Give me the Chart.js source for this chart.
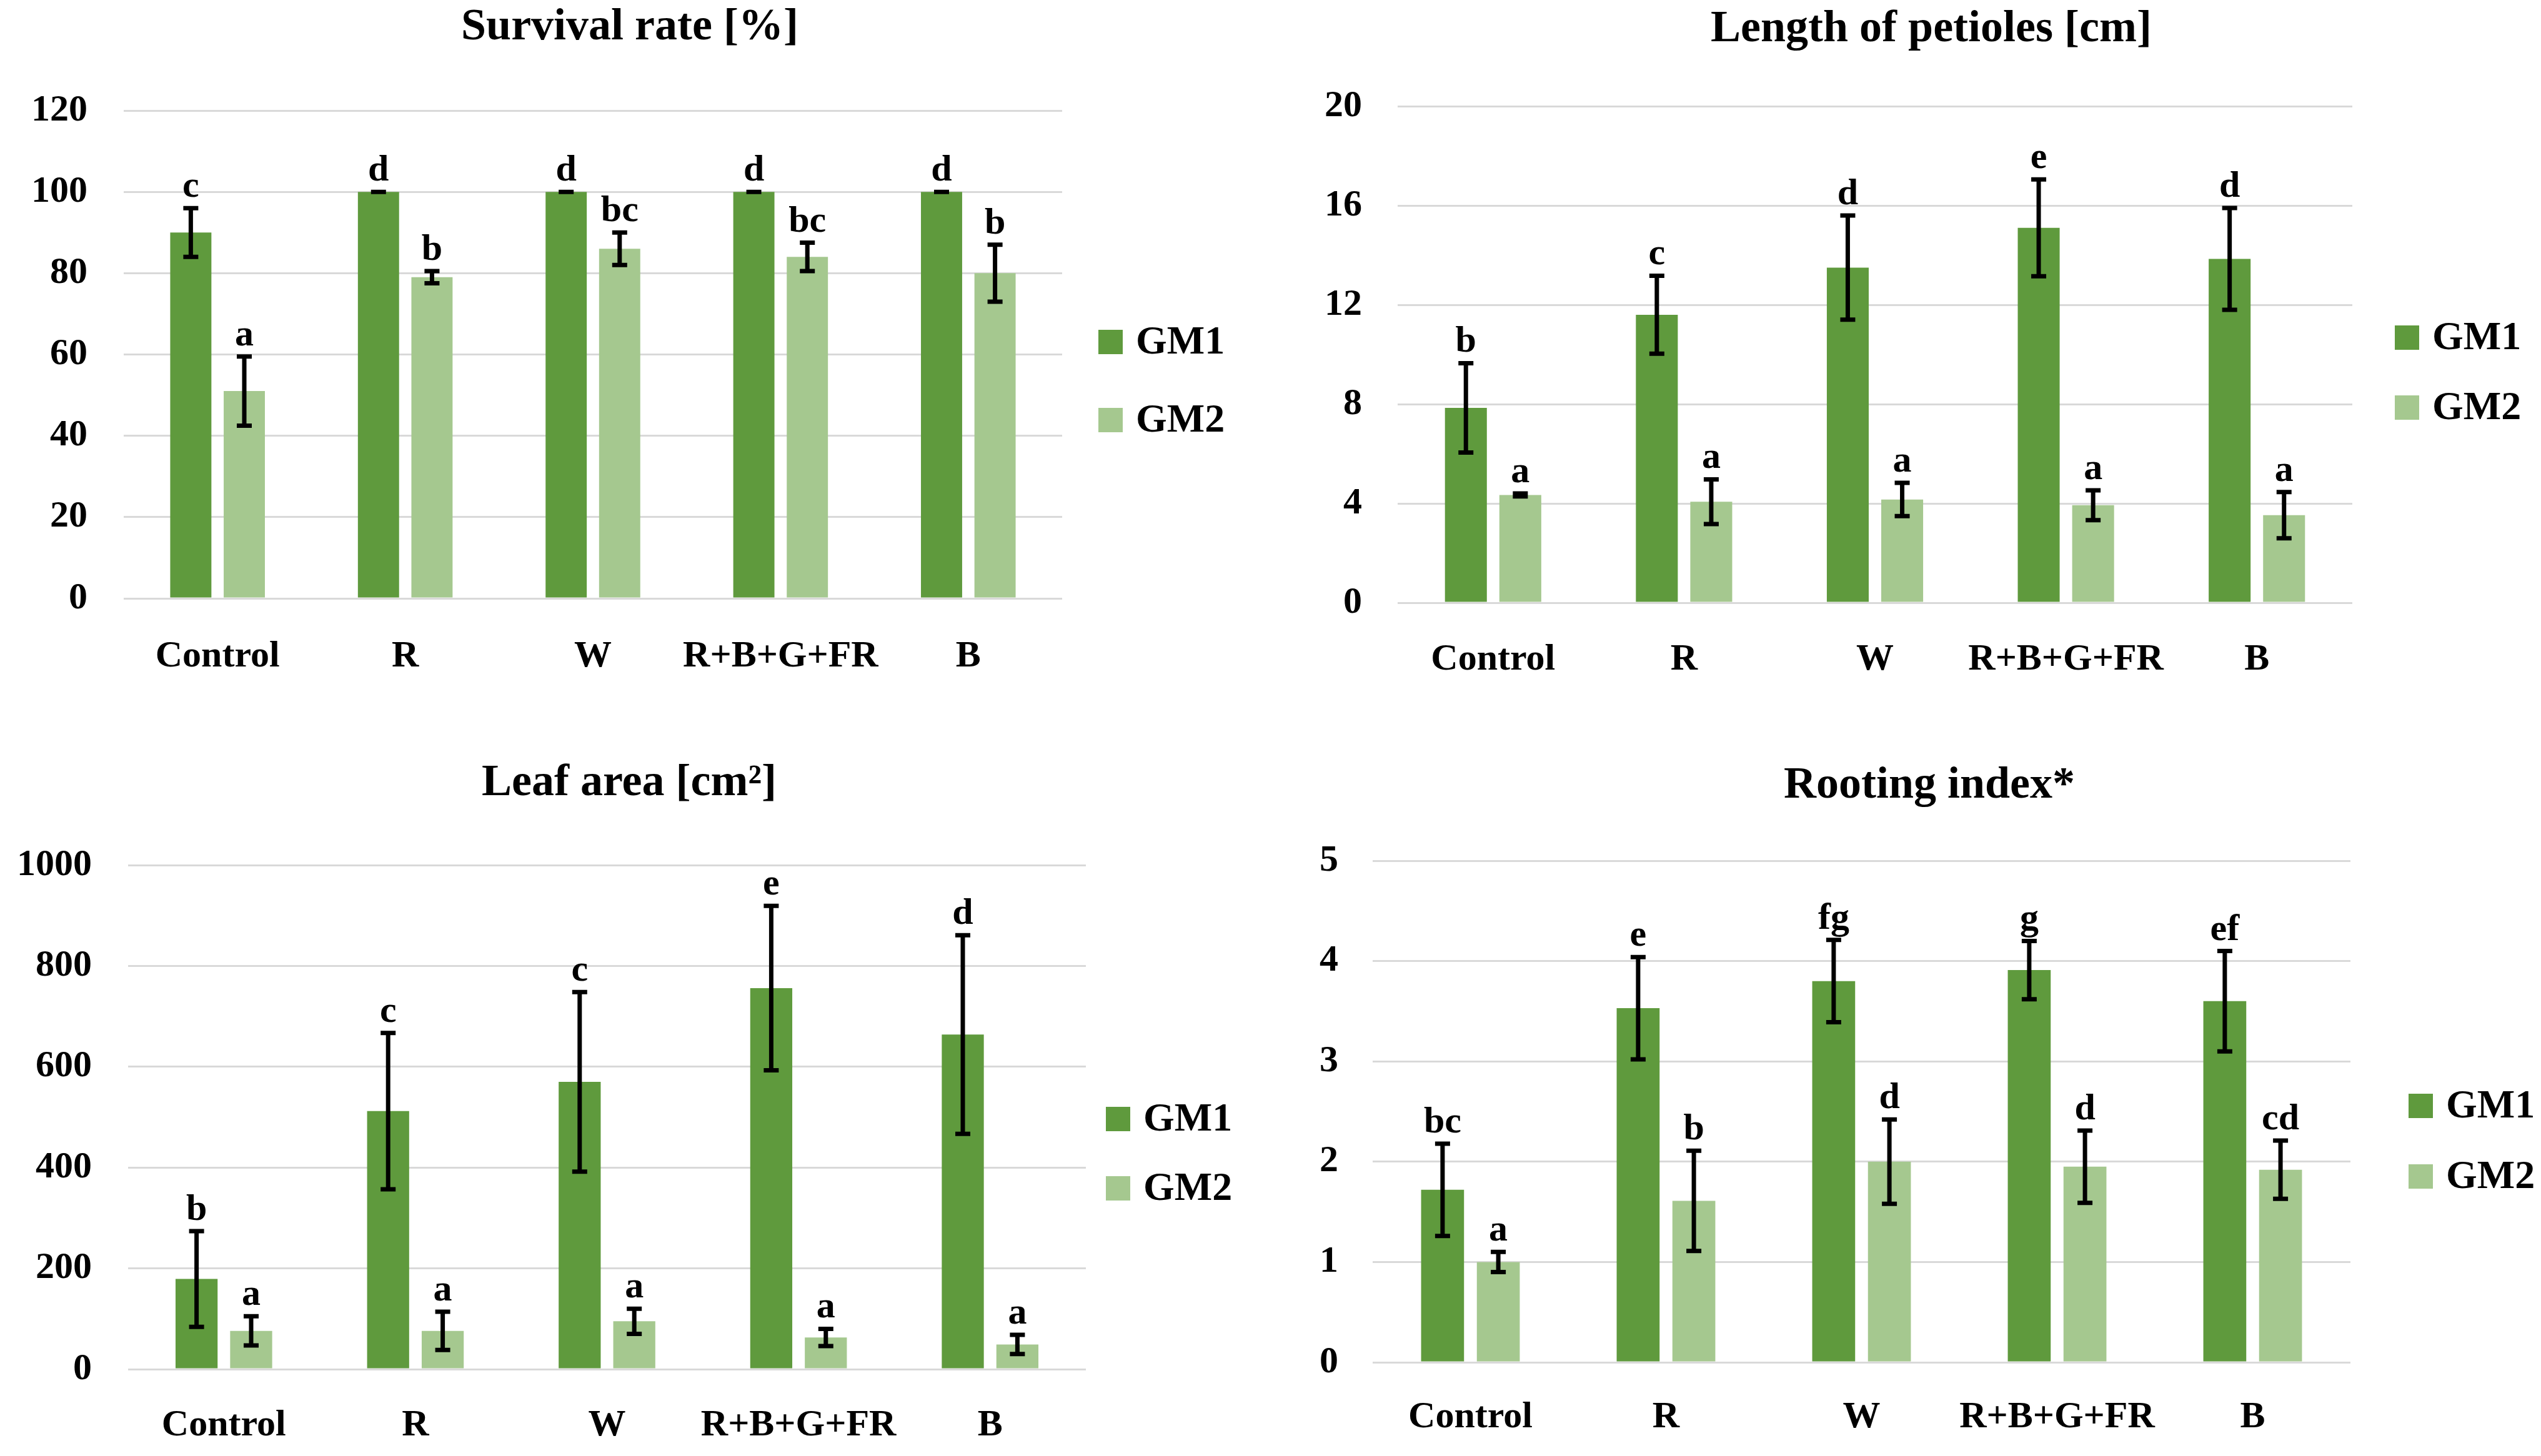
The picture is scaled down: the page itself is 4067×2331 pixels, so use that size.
<!DOCTYPE html>
<html>
<head>
<meta charset="utf-8">
<script src="https://cdn.jsdelivr.net/npm/chart.js@4.4.1/dist/chart.umd.min.js"></script>
<style>
  html, body { margin: 0; padding: 0; background: #fff; }
  body { width: 4067px; height: 2331px; position: relative; overflow: hidden; }
  canvas { position: absolute; }
</style>
</head>
<body>
<canvas id="c1" width="2033" height="1165" style="left:0;top:0"></canvas>
<canvas id="c2" width="2034" height="1165" style="left:2033px;top:0"></canvas>
<canvas id="c3" width="2033" height="1166" style="left:0;top:1165px"></canvas>
<canvas id="c4" width="2034" height="1166" style="left:2033px;top:1165px"></canvas>
<script>
const categories = ['Control', 'R', 'W', 'R+B+G+FR', 'B'];
const seriesNames = ['GM1', 'GM2'];

// Survival rate [%]
const survivalGM1 = [90, 100, 100, 100, 100];
const survivalGM1Err = [6, 0, 0, 0, 0];
const survivalGM2 = [51, 79, 86, 84, 80];
const survivalGM2Err = [8.5, 1.5, 4, 3.5, 7];
const survivalLetters1 = ['c', 'd', 'd', 'd', 'd'];
const survivalLetters2 = ['a', 'b', 'bc', 'bc', 'b'];
const survivalTicks = [0, 20, 40, 60, 80, 100, 120];

// Length of petioles [cm]
const petioleGM1 = [7.85, 11.6, 13.5, 15.1, 13.85];
const petioleGM1Err = [1.8, 1.57, 2.1, 1.95, 2.05];
const petioleGM2 = [4.34, 4.07, 4.16, 3.93, 3.53];
const petioleGM2Err = [0.06, 0.9, 0.67, 0.6, 0.93];
const petioleLetters1 = ['b', 'c', 'd', 'e', 'd'];
const petioleLetters2 = ['a', 'a', 'a', 'a', 'a'];
const petioleTicks = [0, 4, 8, 12, 16, 20];

// Leaf area [cm2]
const leafGM1 = [179, 512, 570, 756, 664];
const leafGM1Err = [95, 155, 178, 163, 197];
const leafGM2 = [76, 76, 95, 63, 49];
const leafGM2Err = [29, 38, 25, 17, 19];
const leafLetters1 = ['b', 'c', 'c', 'e', 'd'];
const leafLetters2 = ['a', 'a', 'a', 'a', 'a'];
const leafTicks = [0, 200, 400, 600, 800, 1000];

// Rooting index*
const rootGM1 = [1.72, 3.53, 3.8, 3.91, 3.6];
const rootGM1Err = [0.46, 0.51, 0.41, 0.29, 0.5];
const rootGM2 = [1.0, 1.61, 2.0, 1.95, 1.92];
const rootGM2Err = [0.1, 0.5, 0.42, 0.36, 0.29];
const rootLetters1 = ['bc', 'e', 'fg', 'g', 'ef'];
const rootLetters2 = ['a', 'b', 'd', 'd', 'cd'];
const rootTicks = [0, 1, 2, 3, 4, 5];

const colors = ['#5f9a3d', '#a5c88f'];
const fontFamily = '"Liberation Serif", "Times New Roman", serif';

// mark extras: error bars, letters, title, legend
const extras = {
  id: 'extras',
  afterDatasetsDraw(chart, args, opts) {
    const ctx = chart.ctx;
    const y = chart.scales.y;
    ctx.save();
    chart.data.datasets.forEach((ds, i) => {
      const meta = chart.getDatasetMeta(i);
      meta.data.forEach((bar, j) => {
        const v = ds.data[j], e = ds.err[j];
        const top = y.getPixelForValue(v + e);
        const bot = y.getPixelForValue(v - e);
        ctx.strokeStyle = '#000';
        ctx.lineWidth = 7;
        ctx.beginPath();
        ctx.moveTo(bar.x, top); ctx.lineTo(bar.x, bot);
        ctx.moveTo(bar.x - 12, top); ctx.lineTo(bar.x + 12, top);
        ctx.moveTo(bar.x - 12, bot); ctx.lineTo(bar.x + 12, bot);
        ctx.stroke();
        ctx.fillStyle = '#000';
        ctx.font = 'bold 60px ' + fontFamily;
        ctx.textAlign = 'center';
        ctx.textBaseline = 'alphabetic';
        ctx.fillText(ds.letters[j], bar.x, top - 18);
      });
    });
    ctx.restore();
  },
  afterDraw(chart, args, opts) {
    const ctx = chart.ctx;
    ctx.save();
    ctx.fillStyle = '#000';
    ctx.font = 'bold 72px ' + fontFamily;
    ctx.textAlign = 'center';
    ctx.textBaseline = 'middle';
    ctx.fillText(opts.title, opts.titleX, opts.titleY);
    ctx.font = 'bold 64px ' + fontFamily;
    ctx.textAlign = 'left';
    chart.data.datasets.forEach((ds, i) => {
      const ly = opts.legendY[i];
      ctx.fillStyle = ds.backgroundColor;
      ctx.fillRect(opts.legendX, ly - 19, 39, 39);
      ctx.fillStyle = '#000';
      ctx.fillText(ds.label, opts.legendX + 60, ly + 2);
    });
    ctx.restore();
  }
};

function makeChart(id, title, g1, e1, g2, e2, l1, l2, ticks, box) {
  const canvas = document.getElementById(id);
  const W = canvas.width, H = canvas.height;
  return new Chart(canvas, {
    type: 'bar',
    data: {
      labels: categories,
      datasets: [
        { label: seriesNames[0], data: g1, err: e1, letters: l1, backgroundColor: colors[0] },
        { label: seriesNames[1], data: g2, err: e2, letters: l2, backgroundColor: colors[1] }
      ]
    },
    options: {
      responsive: false,
      devicePixelRatio: 1,
      animation: false,
      categoryPercentage: 0.57,
      barPercentage: 0.77,
      layout: { padding: { left: 0, top: box.top, right: W - box.right, bottom: 0 } },
      scales: {
        x: {
          grid: { display: false },
          border: { display: false },
          ticks: {
            color: '#000', font: { family: fontFamily, size: 60, weight: 'bold' },
            padding: box.xPad, maxRotation: 0, autoSkip: false
          },
          afterFit: s => { s.height = H - box.bottom; }
        },
        y: {
          min: ticks[0],
          max: ticks[ticks.length - 1],
          afterBuildTicks: s => { s.ticks = ticks.map(v => ({ value: v })); },
          grid: { color: '#d9d9d9', lineWidth: 3, drawTicks: false },
          border: { display: false },
          ticks: {
            color: '#000', font: { family: fontFamily, size: 60, weight: 'bold' },
            padding: box.yPad, callback: v => String(v)
          },
          afterFit: s => { s.width = box.left; }
        }
      },
      plugins: {
        legend: { display: false },
        tooltip: { enabled: false },
        extras: { title: title, titleX: box.titleX, titleY: box.titleY, legendX: box.legendX, legendY: box.legendY }
      }
    },
    plugins: [extras]
  });
}

makeChart('c1', 'Survival rate [%]', survivalGM1, survivalGM1Err, survivalGM2, survivalGM2Err,
  survivalLetters1, survivalLetters2, survivalTicks,
  { left: 198, right: 1700, top: 177, bottom: 958, xPad: 49, yPad: 58, titleX: 1008, titleY: 44, legendX: 1758, legendY: [547, 672] });

makeChart('c2', 'Length of petioles [cm]', petioleGM1, petioleGM1Err, petioleGM2, petioleGM2Err,
  petioleLetters1, petioleLetters2, petioleTicks,
  { left: 204, right: 1732, top: 170, bottom: 965, xPad: 47, yPad: 57, titleX: 1058, titleY: 47, legendX: 1800, legendY: [540, 652] });

makeChart('c3', 'Leaf area [cm²]', leafGM1, leafGM1Err, leafGM2, leafGM2Err,
  leafLetters1, leafLetters2, leafTicks,
  { left: 205, right: 1738, top: 220, bottom: 1027, xPad: 46, yPad: 58, titleX: 1007, titleY: 89, legendX: 1770, legendY: [626, 737] });

makeChart('c4', 'Rooting index*', rootGM1, rootGM1Err, rootGM2, rootGM2Err,
  rootLetters1, rootLetters2, rootTicks,
  { left: 164, right: 1729, top: 213, bottom: 1016, xPad: 44, yPad: 55, titleX: 1055, titleY: 93, legendX: 1822, legendY: [605, 718] });
</script>
</body>
</html>
